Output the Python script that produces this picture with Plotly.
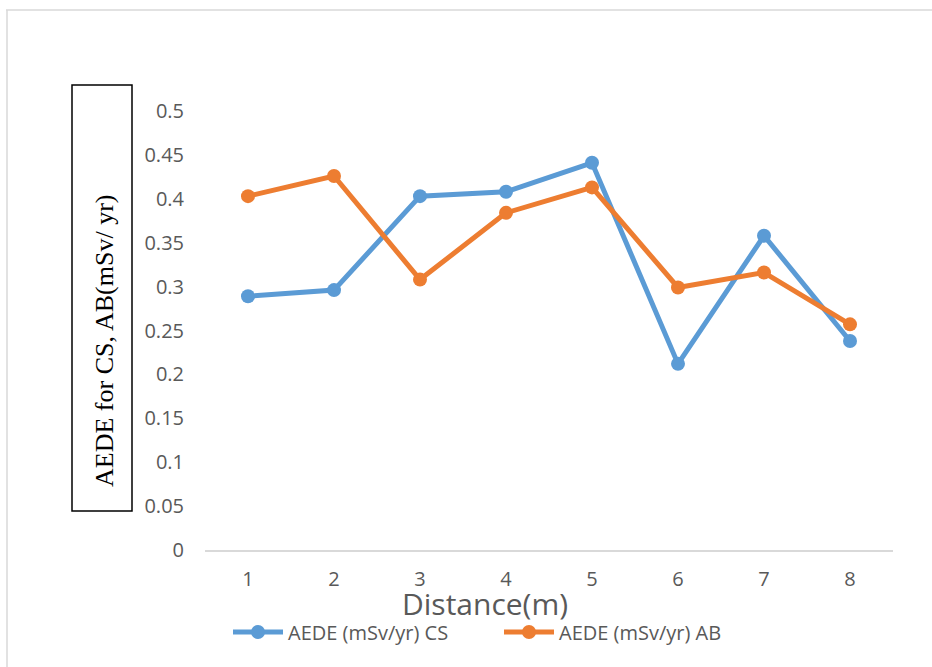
import plotly.graph_objects as go

distance = [1, 2, 3, 4, 5, 6, 7, 8]
x_tick_labels = ["1", "2", "3", "4", "5", "6", "7", "8"]
aede_cs = [0.289, 0.296, 0.403, 0.408, 0.441, 0.212, 0.358, 0.238]
aede_ab = [0.403, 0.426, 0.308, 0.384, 0.413, 0.299, 0.316, 0.257]
y_tick_vals = [0, 0.05, 0.1, 0.15, 0.2, 0.25, 0.3, 0.35, 0.4, 0.45, 0.5]
y_tick_text = ["0", "0.05", "0.1", "0.15", "0.2", "0.25", "0.3", "0.35", "0.4", "0.45", "0.5"]

W, H = 932, 667
L, R, T, B = 205, 39, 111, 117
PW, PH = W - L - R, H - T - B

def px(x):
    return (x - L) / PW

def py(y):
    return (H - B - y) / PH

BLUE = "#5B9BD5"
ORANGE = "#ED7D31"
GRAY = "#595959"
FONT = "Open Sans"

fig = go.Figure()
fig.add_trace(go.Scatter(
    x=distance, y=aede_cs, mode="lines+markers", name="AEDE (mSv/yr) CS",
    line=dict(color=BLUE, width=5), marker=dict(color=BLUE, size=14)))
fig.add_trace(go.Scatter(
    x=distance, y=aede_ab, mode="lines+markers", name="AEDE (mSv/yr) AB",
    line=dict(color=ORANGE, width=5), marker=dict(color=ORANGE, size=14)))

fig.update_layout(
    width=W, height=H,
    margin=dict(l=L, r=R, t=T, b=B, autoexpand=False),
    paper_bgcolor="white", plot_bgcolor="white",
    font=dict(family=FONT, color=GRAY, size=20),
    showlegend=True,
    legend=dict(orientation="h", x=px(228), xanchor="left", y=py(632), yanchor="middle",
                font=dict(family=FONT, size=20, color=GRAY), itemwidth=50,
                entrywidth=206, entrywidthmode="pixels",
                bgcolor="rgba(0,0,0,0)", tracegroupgap=0),
    xaxis=dict(range=[0.5, 8.5], tickmode="array", tickvals=distance, ticktext=x_tick_labels,
               showgrid=False, zeroline=False, showline=True, linecolor="#d9d9d9", linewidth=1.5,
               ticks="", ticklabelstandoff=10, tickfont=dict(family=FONT, size=20, color=GRAY),
               fixedrange=True),
    yaxis=dict(range=[0, 0.5], tickmode="array", tickvals=y_tick_vals, ticktext=y_tick_text,
               showgrid=False, zeroline=False, showline=False, ticks="",
               ticklabelstandoff=20, tickfont=dict(family=FONT, size=20, color=GRAY),
               fixedrange=True),
)

# x-axis title
fig.add_annotation(text="Distance(m)", xref="paper", yref="paper", x=px(485), y=py(603),
                   xanchor="center", yanchor="middle", showarrow=False,
                   font=dict(family=FONT, size=30, color=GRAY))

# y-axis title inside a box
fig.add_shape(type="rect", xref="paper", yref="paper", x0=px(72), x1=px(132), y0=py(511), y1=py(85),
              line=dict(color="black", width=1.5), fillcolor="rgba(0,0,0,0)", layer="above")
fig.add_annotation(text="AEDE for CS, AB(mSv/ yr)", xref="paper", yref="paper",
                   x=px(104), y=py(340), xanchor="center", yanchor="middle", textangle=-90,
                   showarrow=False, font=dict(family="Liberation Serif", size=26, color="black"))

# outer chart-area border (top and left edges visible)
fig.add_shape(type="line", xref="paper", yref="paper", x0=px(6), x1=px(940), y0=py(10), y1=py(10),
              line=dict(color="#d9d9d9", width=1.5))
fig.add_shape(type="line", xref="paper", yref="paper", x0=px(7), x1=px(7), y0=py(10), y1=py(680),
              line=dict(color="#d9d9d9", width=1.5))

fig.write_html("out.html", config={"displayModeBar": False})
